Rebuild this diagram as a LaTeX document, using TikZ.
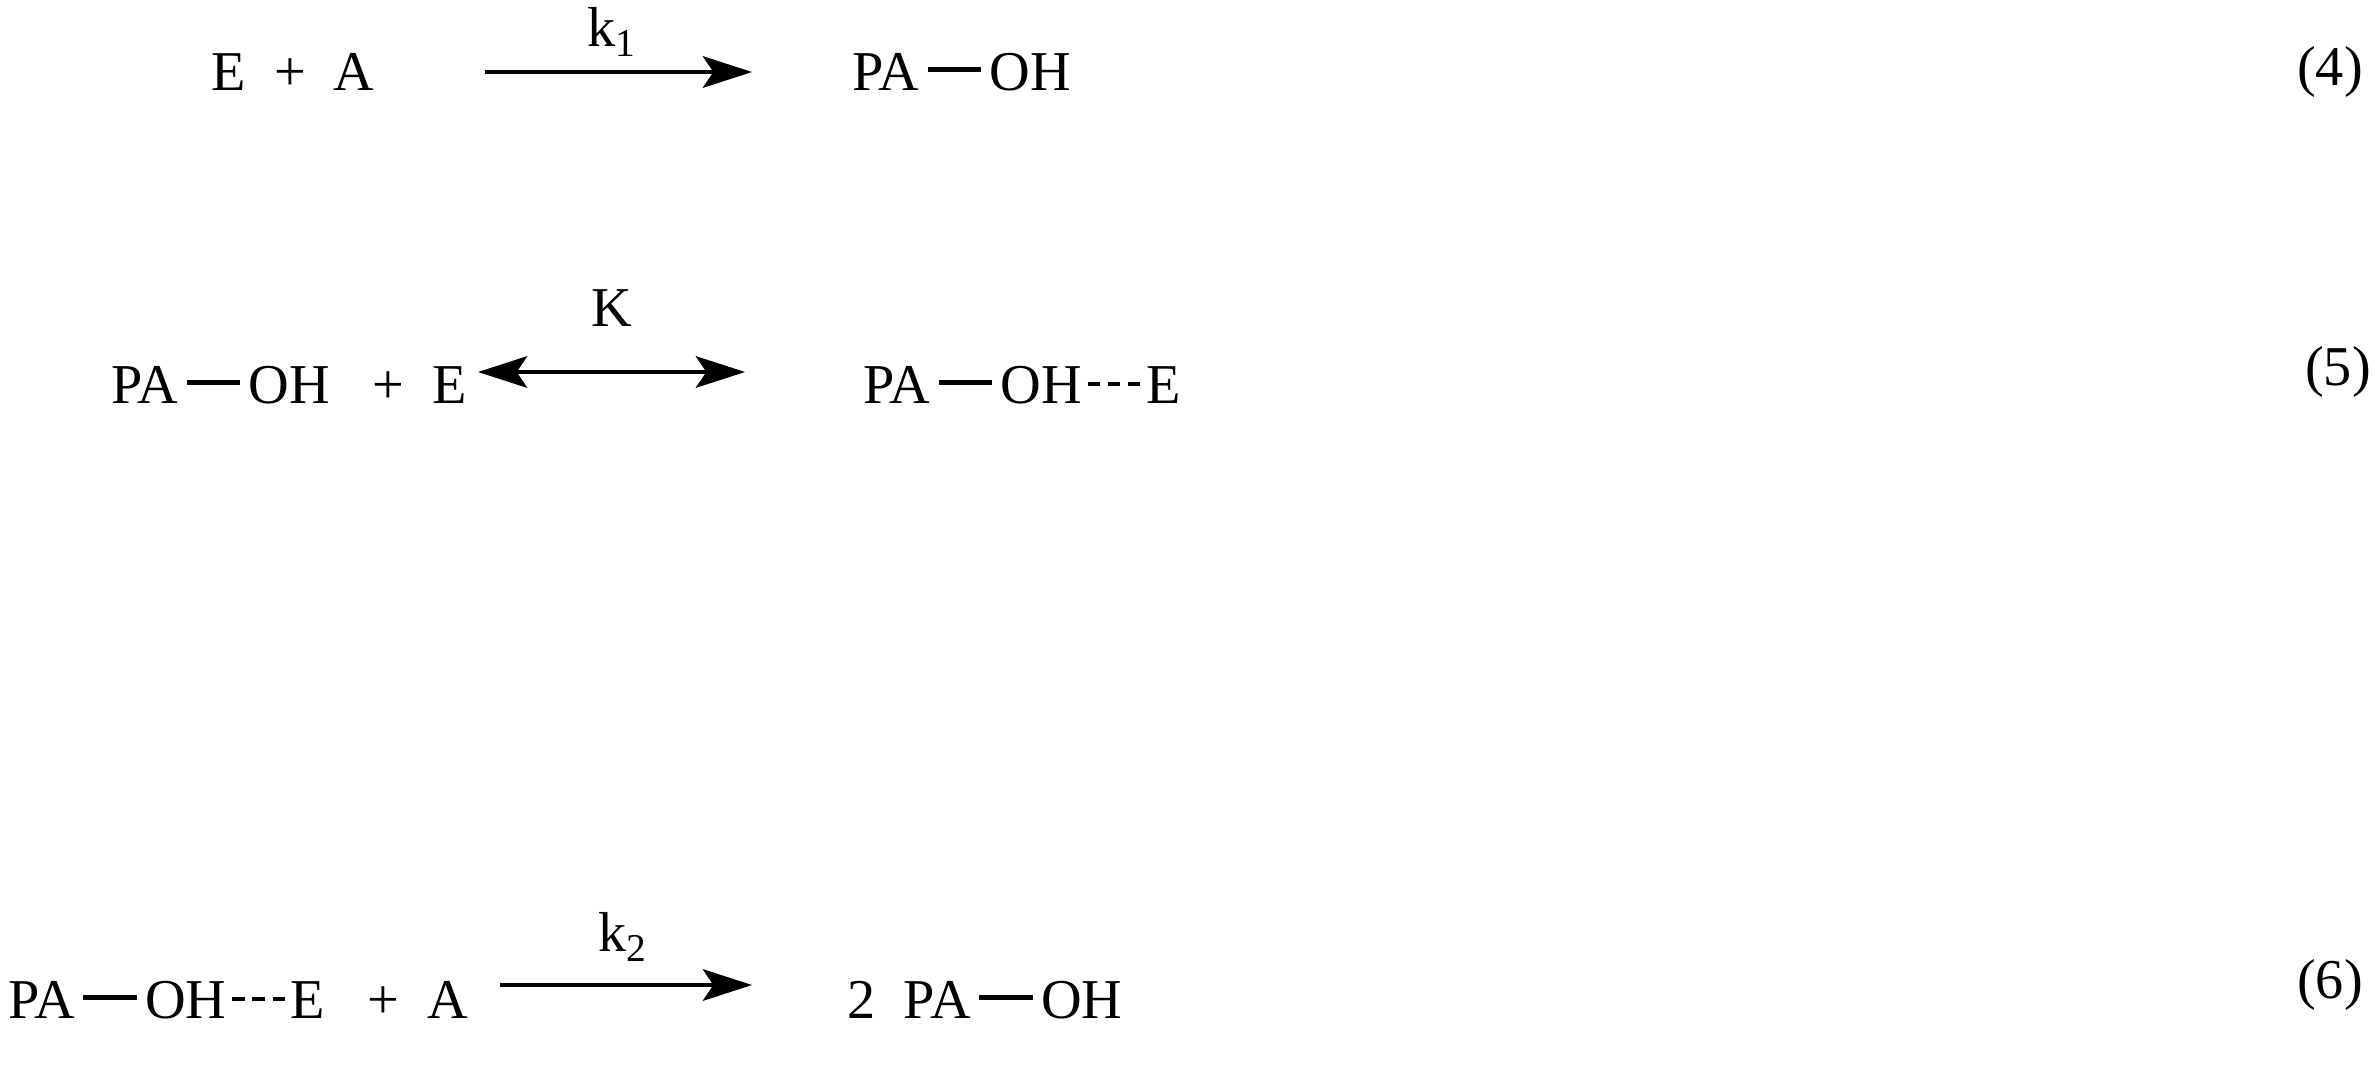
\documentclass[tikz,border=0pt]{standalone}
\usepackage{fontspec}
\setmainfont{Liberation Serif}
\usetikzlibrary{arrows.meta}
\newcommand{\sbond}{\hspace{0.15em}\rule[0.32em]{0.95em}{1.6pt}\hspace{0.15em}}
\newcommand{\hbond}{\hspace{0.1em}\rule[0.3em]{0.22em}{1.2pt}\hspace{0.14em}\rule[0.3em]{0.22em}{1.2pt}\hspace{0.14em}\rule[0.3em]{0.22em}{1.2pt}\hspace{0.1em}}
\begin{document}
\begin{tikzpicture}[x=0.01cm,y=-0.01cm,
  txt/.style={inner sep=0pt,font=\fontsize{16}{19}\selectfont,anchor=center},
  rarrow/.style={line width=0.9pt,-{Stealth[length=14pt,width=9pt,inset=3pt]}},
  darrow/.style={line width=0.9pt,{Stealth[length=14pt,width=9pt,inset=3pt]}-{Stealth[length=14pt,width=9pt,inset=3pt]}}]
\useasboundingbox (0,0) rectangle (2375,1066);
% row 1
\node[txt] (r1a) at (293,72) {E\ \ +\ \ A};
\coordinate (a1s) at (485,72);
\coordinate (a1e) at (752,72);
\draw[rarrow] (a1s) -- (a1e);
\node[txt] (k1) at (612,32) {k\textsubscript{1}};
\node[txt] (r1b) at (962,72) {PA\sbond OH};
\node[txt] (n4) at (2330,72) {(4)};
% row 2
\node[txt] (r2a) at (289,385) {PA\sbond OH\ \ \ +\ \ E};
\coordinate (a2s) at (478,372);
\coordinate (a2e) at (745,372);
\draw[darrow] (a2s) -- (a2e);
\node[txt] (kk) at (612,308) {K};
\node[txt] (r2b) at (1022,385) {PA\sbond OH\hbond E};
\node[txt] (n5) at (2338,372) {(5)};
% row 3
\node[txt] (r3a) at (238,1000) {PA\sbond OH\hbond E\ \ \ +\ \ A};
\coordinate (a3s) at (500,985);
\coordinate (a3e) at (752,985);
\draw[rarrow] (a3s) -- (a3e);
\node[txt] (k2) at (623,937) {k\textsubscript{2}};
\node[txt] (r3b) at (985,1000) {2\ \ PA\sbond OH};
\node[txt] (n6) at (2330,985) {(6)};
\end{tikzpicture}
\end{document}
